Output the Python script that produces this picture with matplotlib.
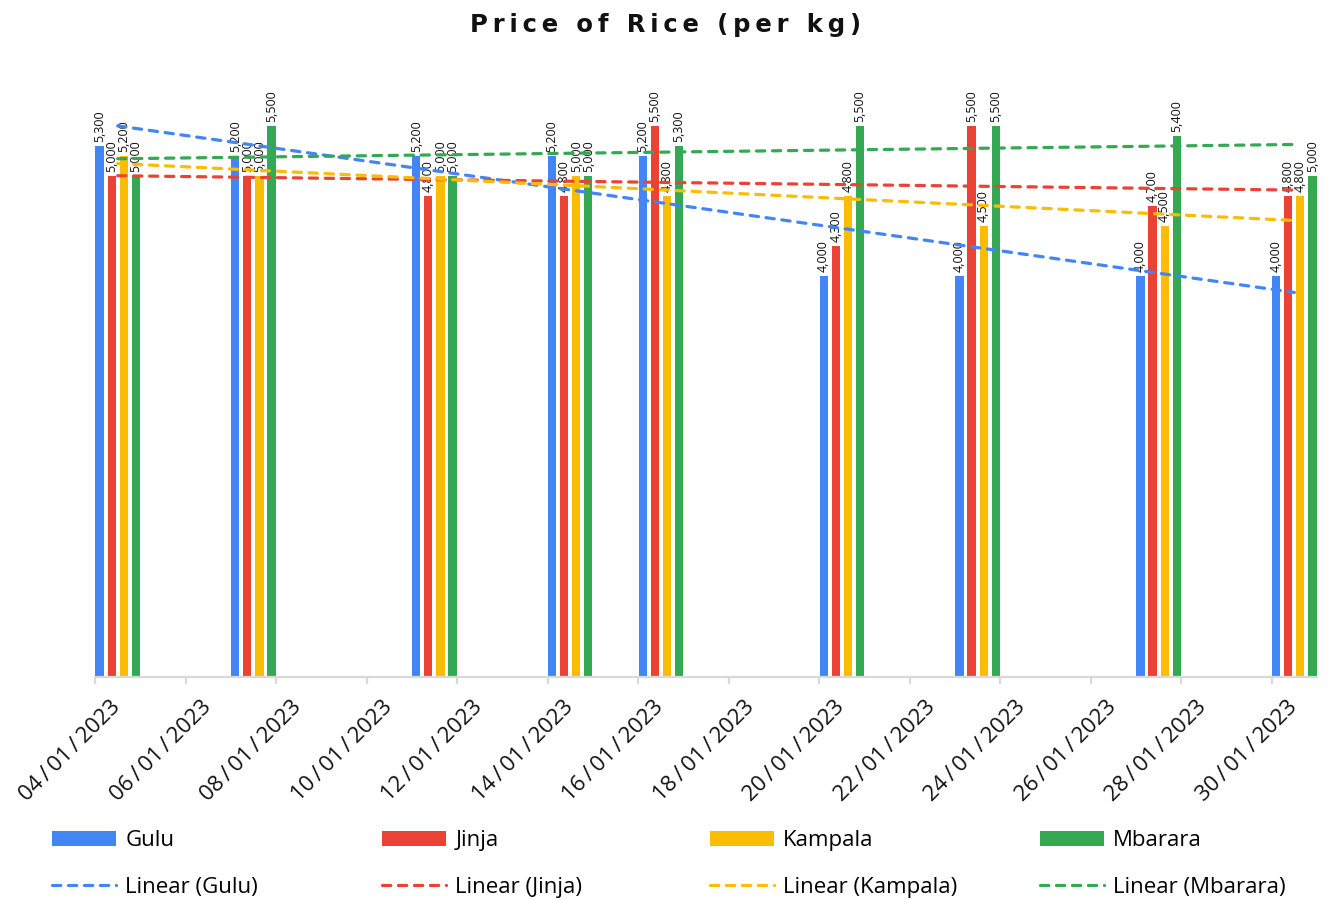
import matplotlib
matplotlib.use("Agg")
import matplotlib.pyplot as plt
import matplotlib.transforms as mtransforms
from matplotlib.patches import Patch
from matplotlib.lines import Line2D
import numpy as np
import pandas as pd

# rice price per kg, by market
dates = ["04/01/2023", "07/01/2023", "11/01/2023", "14/01/2023", "16/01/2023",
         "20/01/2023", "23/01/2023", "27/01/2023", "30/01/2023"]
gulu = [5300, 5200, 5200, 5200, 5200, 4000, 4000, 4000, 4000]
jinja = [5000, 5000, 4800, 4800, 5500, 4300, 5500, 4700, 4800]
kampala = [5200, 5000, 5000, 5000, 4800, 4800, 4500, 4500, 4800]
mbarara = [5000, 5500, 5000, 5000, 5300, 5500, 5500, 5400, 5000]

cities = ["Gulu", "Jinja", "Kampala", "Mbarara"]
series = [gulu, jinja, kampala, mbarara]
colors = ["#4285F4", "#EA4335", "#FBBC04", "#34A853"]

dt = pd.to_datetime(dates, format="%d/%m/%Y")
start = dt[0]
days = np.array([(d - start).days for d in dt], dtype=float)
tick_days = np.arange(0, 27, 2)
tick_labels = [(start + pd.Timedelta(days=int(k))).strftime("%d/%m/%Y") for k in tick_days]
THIN = "\u2009"

W, H = 1328, 900
fig = plt.figure(figsize=(W / 100, H / 100), dpi=100)
ax = fig.add_axes([95 / W, 223 / H, 1222 / W, 601 / H])
ax.set_xlim(0, 27)
ax.set_ylim(0, 6000)

pitch = 0.267
bw = 0.18
dash = dict(linestyle=(0, (2.6, 2.4)), dash_capstyle="round", linewidth=2.3)

for i, (vals, c) in enumerate(zip(series, colors)):
    xs = days + 0.5 + (i - 1.5) * pitch
    ax.bar(xs, vals, width=bw, color=c, zorder=2)
    for x, v in zip(xs, vals):
        ax.annotate(f"{v:,}", (x, v), xytext=(0, 3), textcoords="offset points",
                    rotation=90, ha="center", va="bottom", fontsize=9,
                    family="Open Sans", color="#111111")

# linear trendlines across the span of the groups
for vals, c in zip(series, colors):
    k, b = np.polyfit(days, vals, 1)
    tx = np.array([days[0], days[-1]])
    ax.plot(tx + 0.5, k * tx + b, color=c, zorder=3, **dash)

for s in ["left", "right", "top"]:
    ax.spines[s].set_visible(False)
ax.spines["bottom"].set_color("#d9d9d9")
ax.spines["bottom"].set_linewidth(1.6)
ax.set_yticks([])
ax.set_xticks(tick_days)
ax.set_xticklabels([t.replace("/", THIN + "/" + THIN) for t in tick_labels],
                   rotation=45, ha="right", va="top", rotation_mode="anchor",
                   fontsize=16, family=["Open Sans", "DejaVu Sans"], color="#111111")
ax.tick_params(axis="x", length=5, width=1.6, color="#d9d9d9", pad=0)
shift = mtransforms.ScaledTranslation(0.15, -0.13, fig.dpi_scale_trans)
for lab in ax.get_xticklabels():
    lab.set_transform(lab.get_transform() + shift)

fig.text(666 / W, 1 - 25 / H, THIN.join("Price of Rice (per kg)"), ha="center",
         va="center", fontsize=17.5, fontweight="bold", family="DejaVu Sans",
         color="#111111")

col_x = [52, 382, 710, 1040]
for name, c, x0 in zip(cities, colors, col_x):
    handles = [Patch(facecolor=c, edgecolor="none", label=name),
               Line2D([], [], color=c, label=f"Linear ({name})", **dash)]
    fig.legend(handles=handles, loc="upper left", bbox_to_anchor=(x0 / W, 1 - 830 / H),
               frameon=False, borderpad=0, borderaxespad=0, handlelength=2.9,
               handleheight=0.65, handletextpad=0.4, labelspacing=1.15,
               prop=dict(family="Open Sans", size=16))

fig.savefig("out.png", dpi=100)
